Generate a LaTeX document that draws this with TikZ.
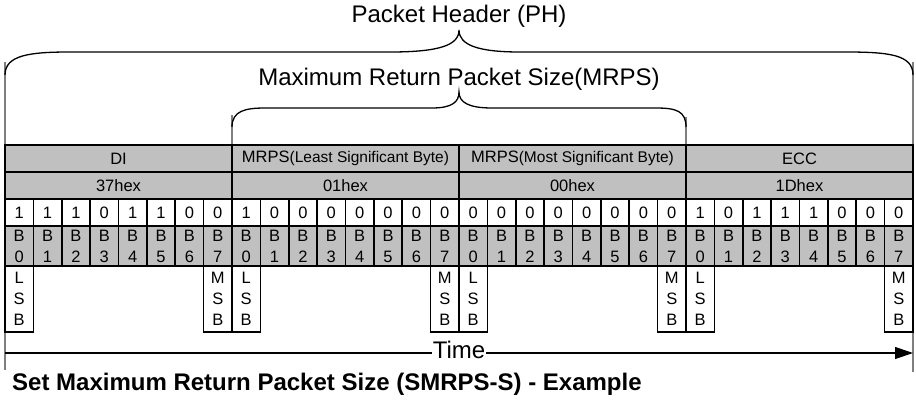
\documentclass[tikz,border=0pt]{standalone}
\usepackage{fontspec}
\setmainfont{Liberation Sans}
\usepackage{tikz}
\usetikzlibrary{arrows.meta,positioning}
\definecolor{ink}{HTML}{000000}
\definecolor{cellgray}{HTML}{C0C0C0}
\definecolor{tick}{HTML}{7F7F7F}
\newcommand{\cellfont}{\fontsize{16.5}{21}\selectfont}
\newcommand{\subfont}{\fontsize{15.5}{17}\selectfont}
\newcommand{\bigfont}{\fontsize{24}{28}\selectfont}

\begin{document}
\begin{tikzpicture}[x=1pt,y=-1pt,
  field/.style={draw=ink,fill=cellgray,line width=1.6pt,outer sep=0pt,inner sep=0pt,anchor=north west,minimum width=227pt,minimum height=27pt,font=\cellfont},
  bitval/.style={field,fill=white,minimum width=28.375pt,minimum height=27pt},
  bitnum/.style={field,minimum width=28.375pt,minimum height=40pt,align=center},
  sbbox/.style={field,fill=white,minimum width=28.375pt,minimum height=66pt,align=center},
  brace/.style={ink,line width=1.3pt},
  endline/.style={tick,line width=1.4pt},
  title/.style={font=\bigfont,anchor=base,inner sep=1pt}]
  \useasboundingbox (0,0) rectangle (916,400);
  % end marks of the braces
  \draw[endline] (5,62) -- (5,370);
  \draw[endline] (913,62) -- (913,372);
  \draw[endline] (232,115) -- (232,145);
  \draw[endline] (686,117) -- (686,145);
  \draw[brace] (5,75) .. controls (5,55) and (30,52) .. (70,52) -- (390,52) .. controls (440,52) and (459,45) .. (459,30)
    .. controls (459,45) and (478,52) .. (520,52) -- (846,52) .. controls (890,52) and (913,55) .. (913,75);
  \draw[brace] (232,127) .. controls (232,111) and (245,108) .. (265,108) -- (432,108) .. controls (452,108) and (459,102) .. (459,92)
    .. controls (459,102) and (468,108) .. (492,108) -- (656,108) .. controls (676,108) and (686,111) .. (686,127);
  \node[title] (ph) at (459,22) {Packet Header (PH)};
  \node[title] (mrps) at (459,85) {Maximum Return Packet Size(MRPS)};
  % fields
  \foreach \i/\nm/\val in {0/{DI}/{37hex}, 1/{MRPS{\subfont(Least Significant Byte)}}/{01hex},
      2/{MRPS{\subfont(Most Significant Byte)}}/{00hex}, 3/{ECC}/{1Dhex}}{
    \node[field] (f\i) at ({5+227*\i},145) {\nm};
    \node[field] (h\i) at ({5+227*\i},172) {\val};
    \node[sbbox] (lsb\i) at ({5+227*\i},266) {L\\S\\B};
    \node[sbbox] (msb\i) at ({5+227*\i+198.625},266) {M\\S\\B};
  }
  % bits
  \foreach \v [count=\k from 0] in {1,1,1,0,1,1,0,0, 1,0,0,0,0,0,0,0, 0,0,0,0,0,0,0,0, 1,0,1,1,1,0,0,0}{
    \pgfmathtruncatemacro\bb{mod(\k,8)}
    \node[bitval] (v\k) at ({5+28.375*\k},199) {\v};
    \node[bitnum] (n\k) at ({5+28.375*\k},226) {B\\\bb};
  }
  % time axis
  \coordinate (tstart) at (5,353);
  \coordinate (tend) at (913,353);
  \node[title] (time) at (459,358) {Time};
  \draw[ink,line width=1.2pt] (tstart) -- (tstart -| time.west);
  \draw[ink,line width=1.2pt,-{Triangle[length=18pt,width=12pt]}] (tstart -| time.east) -- (tend);
  \node[font=\bigfont\bfseries,anchor=base west,inner sep=0pt] (caption) at (12,390) {Set Maximum Return Packet Size (SMRPS-S) - Example};
\end{tikzpicture}
\end{document}
